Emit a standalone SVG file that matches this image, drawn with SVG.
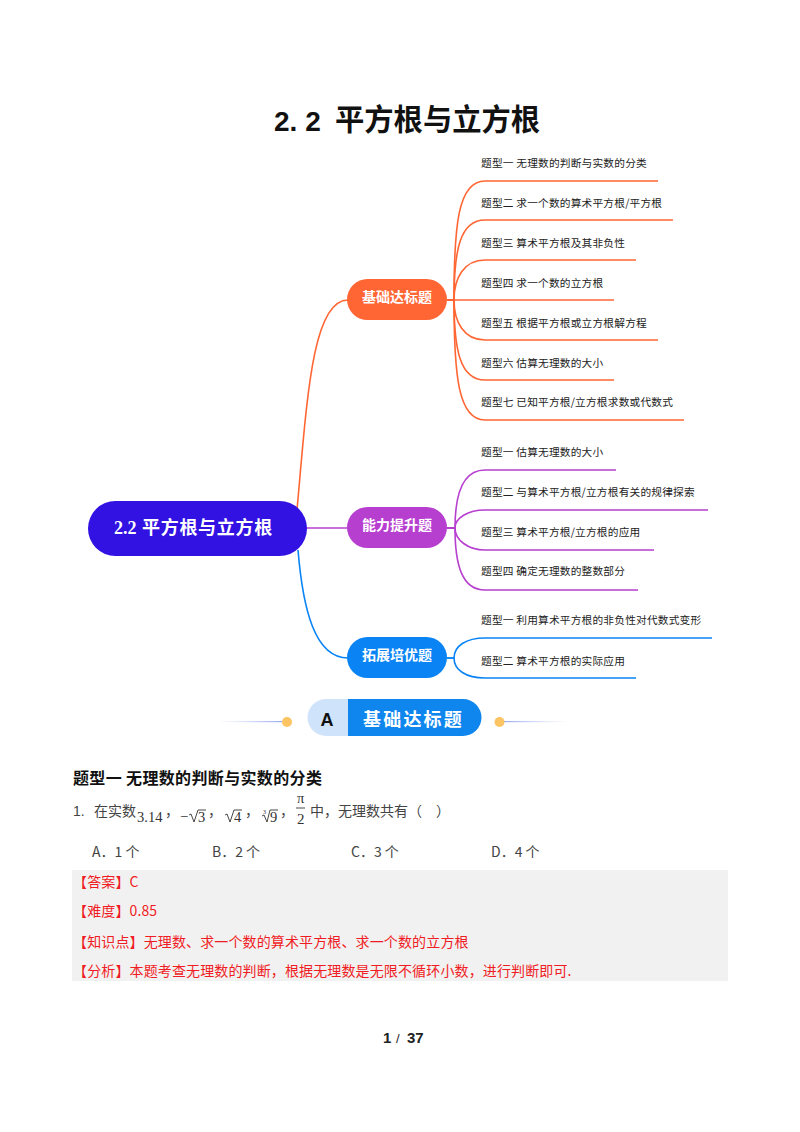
<svg xmlns="http://www.w3.org/2000/svg" width="800" height="1132" viewBox="0 0 800 1132">
<style>
text{font-family:"Noto Sans CJK SC","Noto Sans",sans-serif}
.c{fill:none;stroke-width:1.6}
.o{stroke:#ff6633}.p{stroke:#b73fd0}.b{stroke:#0a84f5}
.leaf{font-size:10.7px;fill:#222;letter-spacing:.2px}
.pill{font-size:14px;font-weight:700;fill:#fff;text-anchor:middle}
.t{font-size:14px;fill:#444}
.r{font-size:14px;fill:#f01c24;letter-spacing:.13px}
.m{font-family:"Liberation Serif",serif;font-size:14.500px;fill:#333}
.rad{fill:none;stroke:#333;stroke-width:.9}
</style>
<rect width="800" height="1132" fill="#fff"/>
<text x="274" y="131" font-size="28" font-weight="700" fill="#111" style="font-family:'Liberation Sans',sans-serif">2. 2</text>
<text x="335" y="130" font-size="29.300" font-weight="700" fill="#111">平方根与立方根</text>

<g id="connectors">
<path class="c o" d="M297,510C307,400 312,300 348,300"/>
<path class="c p" d="M305,528H348"/>
<path class="c b" d="M298,550C303,610 315,658 348,658"/>
<path class="c o" d="M447,300H454C454,225 458,181 485,181H658"/>
<path class="c o" d="M447,300H454C454,250 460,220 485,220H673"/>
<path class="c o" d="M447,300H454C454,278 464,260 485,260H636"/>
<path class="c o" d="M447,300H614"/>
<path class="c o" d="M447,300H454C454,322 464,340 485,340H658"/>
<path class="c o" d="M447,300H454C454,350 460,380 485,380H614"/>
<path class="c o" d="M447,300H454C454,375 458,420 485,420H684"/>
<path class="c p" d="M447,528H455C455,495 462,470 485,470H616"/>
<path class="c p" d="M447,528H455C455,518 468,510 485,510H708"/>
<path class="c p" d="M447,528H455C455,540 468,550 485,550H654"/>
<path class="c p" d="M447,528H455C455,565 462,590 485,590H638"/>
<path class="c b" d="M447,658H454C454,646 466,638 485,638H712"/>
<path class="c b" d="M447,658H454C454,670 466,678 485,678H636"/>
</g>

<g id="root"><rect x="88" y="501" width="219" height="55" rx="27.500" fill="#3211e3"/>
<text x="114" y="534" font-size="18" font-weight="700" fill="#fff" style="font-family:'Liberation Serif',serif">2.2</text>
<text x="142" y="534" font-size="18" font-weight="700" fill="#fff" letter-spacing=".7">平方根与立方根</text></g>
<g id="n1"><rect x="347" y="279" width="100" height="41" rx="20.500" fill="#ff6633"/><text class="pill" x="397" y="302">基础达标题</text></g>
<g id="n2"><rect x="347" y="507" width="100" height="41" rx="20.500" fill="#b73fd0"/><text class="pill" x="397" y="530">能力提升题</text></g>
<g id="n3"><rect x="347" y="637" width="100" height="41" rx="20.500" fill="#0a84f5"/><text class="pill" x="397" y="660">拓展培优题</text></g>

<g id="leaves-1">
<text class="leaf" x="481" y="167">题型一 无理数的判断与实数的分类</text>
<text class="leaf" x="481" y="207">题型二 求一个数的算术平方根/平方根</text>
<text class="leaf" x="481" y="247">题型三 算术平方根及其非负性</text>
<text class="leaf" x="481" y="287">题型四 求一个数的立方根</text>
<text class="leaf" x="481" y="327">题型五 根据平方根或立方根解方程</text>
<text class="leaf" x="481" y="367">题型六 估算无理数的大小</text>
<text class="leaf" x="481" y="406">题型七 已知平方根/立方根求数或代数式</text>
</g>
<g id="leaves-2">
<text class="leaf" x="481" y="456">题型一 估算无理数的大小</text>
<text class="leaf" x="481" y="496">题型二 与算术平方根/立方根有关的规律探索</text>
<text class="leaf" x="481" y="536">题型三 算术平方根/立方根的应用</text>
<text class="leaf" x="481" y="575">题型四 确定无理数的整数部分</text>
</g>
<g id="leaves-3">
<text class="leaf" x="481" y="624">题型一 利用算术平方根的非负性对代数式变形</text>
<text class="leaf" x="481" y="665">题型二 算术平方根的实际应用</text>
</g>

<g id="banner">
<defs>
<linearGradient id="gl" x1="0" x2="1" y1="0" y2="0"><stop offset="0" stop-color="#b9c6f5" stop-opacity="0"/><stop offset="1" stop-color="#8fa4f0"/></linearGradient>
<linearGradient id="gr" x1="1" x2="0" y1="0" y2="0"><stop offset="0" stop-color="#b9c6f5" stop-opacity="0"/><stop offset="1" stop-color="#8fa4f0"/></linearGradient>
</defs>
<rect x="218" y="721" width="68" height="1.200" fill="url(#gl)"/>
<rect x="500" y="721" width="68" height="1.200" fill="url(#gr)"/>
<circle cx="287" cy="722" r="5" fill="#fdc463"/>
<circle cx="499.500" cy="722" r="5" fill="#fdc463"/>
<path d="M348,699H326a18.500,18.500 0 0 0 0,37H348Z" fill="#cfe4fb"/>
<path d="M348,699H463a18.500,18.500 0 0 1 0,37H348Z" fill="#0f86ee"/>
<text x="327" y="726" font-size="18" font-weight="700" fill="#111" text-anchor="middle" style="font-family:'Liberation Sans',sans-serif">A</text>
<text x="363" y="726" font-size="18" font-weight="700" fill="#fff" letter-spacing="2.200">基础达标题</text>
</g>

<g id="question">
<text x="73" y="784" font-size="16" font-weight="700" fill="#111" letter-spacing=".35">题型一 无理数的判断与实数的分类</text>
<text class="t" x="73" y="816" style="font-family:'Liberation Sans',sans-serif">1.</text>
<text class="t" x="94" y="816">在实数</text>
<text class="m" x="137" y="822">3.14</text>
<text class="t" x="165" y="816">，</text>
<text class="m" x="180" y="821">−</text>
<path class="rad" d="M189,815L191,814L194,822L198,810H206"/>
<text class="m" x="198" y="822">3</text>
<text class="t" x="208" y="816">，</text>
<path class="rad" d="M225,815L227,814L230,822L234,810H242"/>
<text class="m" x="234" y="822">4</text>
<text class="t" x="245" y="816">，</text>
<text class="m" x="263" y="814" style="font-size:6px">3</text>
<path class="rad" d="M262,816L264,815L267,822L270,810H278"/>
<text class="m" x="270" y="822">9</text>
<text class="t" x="280" y="816">，</text>
<text class="m" x="297" y="803">π</text>
<path d="M296,808H305" stroke="#333" stroke-width=".9"/>
<text class="m" x="297" y="824" style="font-size:15px">2</text>
<text class="t" x="310" y="816">中，无理数共有（　）</text>
<text class="t" x="92" y="857">A．1 个</text>
<text class="t" x="212" y="857">B．2 个</text>
<text class="t" x="351" y="857">C．3 个</text>
<text class="t" x="491" y="857">D．4 个</text>
</g>

<g id="answer">
<rect x="72" y="870" width="656" height="111" fill="#f1f1f1"/>
<text class="r" x="73" y="887">【答案】C</text>
<text class="r" x="73" y="916">【难度】0.85</text>
<text class="r" x="73" y="947">【知识点】无理数、求一个数的算术平方根、求一个数的立方根</text>
<text class="r" x="73" y="976">【分析】本题考查无理数的判断，根据无理数是无限不循环小数，进行判断即可.</text>
</g>

<g id="footer" font-size="15" fill="#222">
<text x="383" y="1043" font-weight="700" style="font-family:'Liberation Sans',sans-serif">1</text>
<text x="396" y="1043" font-size="13" style="font-family:'Liberation Sans',sans-serif">/</text>
<text x="407" y="1043" font-weight="700" style="font-family:'Liberation Sans',sans-serif">37</text>
</g>
</svg>
